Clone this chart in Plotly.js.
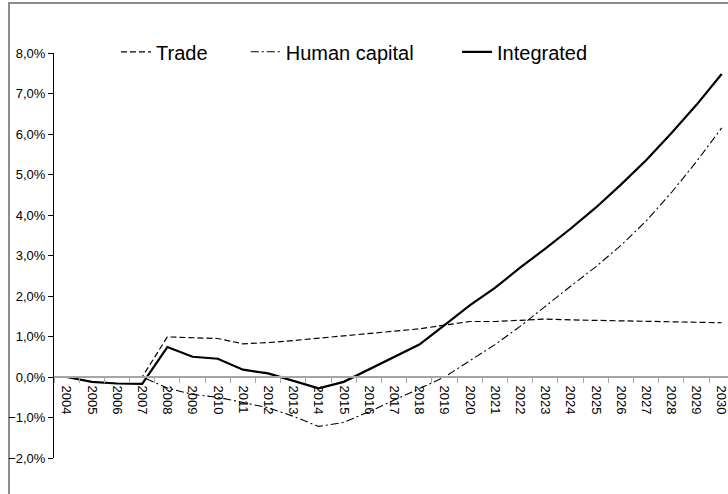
<!DOCTYPE html>
<html>
<head>
<meta charset="utf-8">
<script src="https://cdn.plot.ly/plotly-3.0.1.min.js"></script>
<style>html,body{margin:0;padding:0;background:#fff;}#chart{width:728px;height:494px;}</style>
</head>
<body>
<div id="chart"></div>
<script>
const years = ['2004','2005','2006','2007','2008','2009','2010','2011','2012','2013','2014','2015','2016','2017','2018','2019','2020','2021','2022','2023','2024','2025','2026','2027','2028','2029','2030'];
const trade = [0,0,0,0,0.99,0.97,0.95,0.82,0.85,0.90,0.96,1.02,1.07,1.13,1.19,1.28,1.37,1.37,1.40,1.43,1.41,1.40,1.38,1.37,1.36,1.35,1.34];
const humanCapital = [0,0,0,0,-0.27,-0.43,-0.50,-0.63,-0.76,-0.97,-1.22,-1.12,-0.86,-0.57,-0.28,0.0,0.40,0.80,1.25,1.75,2.24,2.72,3.25,3.85,4.55,5.32,6.15];
const integrated = [0,-0.12,-0.16,-0.17,0.74,0.50,0.45,0.18,0.09,-0.09,-0.28,-0.12,0.19,0.49,0.80,1.28,1.77,2.20,2.70,3.17,3.66,4.18,4.75,5.35,6.02,6.72,7.48];
const seriesNames = ['Trade','Human capital','Integrated'];

const FONT = '"Liberation Sans", Arial, sans-serif';

const traces = [
  {x: years, y: trade, name: seriesNames[0], type: 'scatter', mode: 'lines', legend: 'legend',
   line: {color: '#000', width: 1.2, dash: '6px,3px'}},
  {x: years, y: humanCapital, name: seriesNames[1], type: 'scatter', mode: 'lines', legend: 'legend2',
   line: {color: '#000', width: 1.1, dash: '8px,3px,2px,3px'}},
  {x: years, y: integrated, name: seriesNames[2], type: 'scatter', mode: 'lines', legend: 'legend3',
   line: {color: '#000', width: 2.2}}
];

const legendBase = {orientation: 'h', y: 1.003, yanchor: 'middle', xanchor: 'left', bgcolor: 'rgba(0,0,0,0)',
  font: {family: FONT, size: 20, color: '#000'}};

const layout = {
  width: 728, height: 494,
  margin: {l: 54, r: 0, t: 53, b: 36},
  paper_bgcolor: '#fff', plot_bgcolor: '#fff',
  separators: ',.',
  showlegend: true,
  legend: Object.assign({}, legendBase, {x: 0.092}),
  legend2: Object.assign({}, legendBase, {x: 0.2845}),
  legend3: Object.assign({}, legendBase, {x: 0.598}),
  xaxis: {
    type: 'category', range: [-0.5, 26.25],
    anchor: 'free', position: 0.2,
    showline: true, linecolor: '#a6a6a6', linewidth: 2,
    ticks: 'outside', ticklen: 5, tickcolor: '#a6a6a6', tickwidth: 1, tickson: 'boundaries',
    ticklabelstandoff: 5,
    tickangle: 90, showgrid: false, zeroline: false,
    tickfont: {family: FONT, size: 13, color: '#000'}
  },
  yaxis: {
    range: [-2, 8], dtick: 1, tick0: 0,
    ticksuffix: '%', tickformat: '.1f',
    showline: true, linecolor: '#000', linewidth: 1,
    ticks: 'outside', ticklen: 5, tickcolor: '#000',
    showgrid: false, zeroline: false,
    tickfont: {family: FONT, size: 13, color: '#000'}
  },
  shapes: [
    {type: 'rect', xref: 'paper', yref: 'paper', x0: -0.0668, x1: 1.05, y0: -0.2, y1: 1.1235,
     line: {color: '#8c8c8c', width: 2}, fillcolor: 'rgba(0,0,0,0)', layer: 'below'}
  ]
};

Plotly.newPlot('chart', traces, layout, {displayModeBar: false, staticPlot: true});
</script>
</body>
</html>
